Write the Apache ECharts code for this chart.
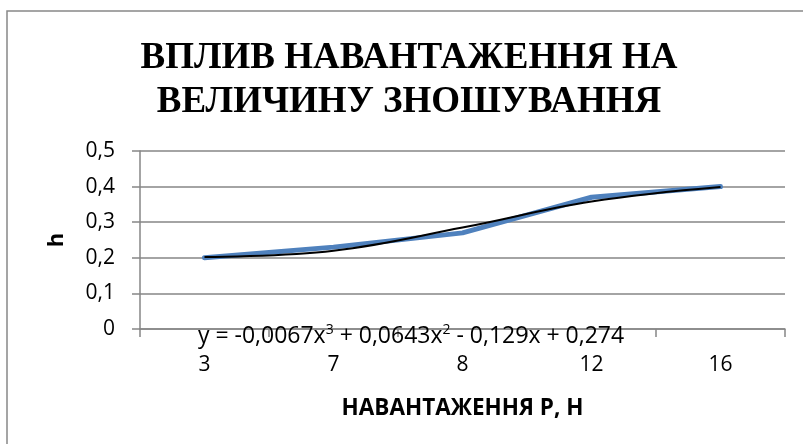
<!DOCTYPE html>
<html>
<head>
<meta charset="utf-8">
<script src="https://cdn.jsdelivr.net/npm/echarts@6/dist/echarts.min.js"></script>
<style>
  html, body { margin: 0; padding: 0; background: #fff; }
  #chart { width: 803px; height: 444px; }
</style>
</head>
<body>
<div id="chart"></div>
<script>
// Вплив навантаження на величину зношування
const categories = ['3', '7', '8', '12', '16'];
const wearValues = [0.2, 0.23, 0.27, 0.37, 0.4];
// polynomial trend at each category
const trendValues = [0.202, 0.22, 0.285, 0.358, 0.399];
const yTicks = { min: 0, max: 0.5, step: 0.1 };
const titleText = 'ВПЛИВ НАВАНТАЖЕННЯ НА\nВЕЛИЧИНУ ЗНОШУВАННЯ';
const xName = 'НАВАНТАЖЕННЯ Р, Н';
const yName = 'h';

const sansFont = 'Open Sans';
const serifFont = 'Liberation Serif';
const gridColor = '#868686';

const chart = echarts.init(document.getElementById('chart'));

const option = {
  backgroundColor: '#fff',
  animation: false,
  title: {
    text: titleText,
    left: 404,
    top: 31,
    textAlign: 'center',
    textStyle: {
      fontFamily: serifFont,
      fontWeight: 'bold',
      fontSize: 37,
      lineHeight: 44,
      color: '#000',
    },
  },
  grid: {
    left: 140,
    right: 18,
    top: 151,
    bottom: 115,
    containLabel: false,
  },
  xAxis: {
    type: 'category',
    data: categories,
    boundaryGap: true,
    name: xName,
    nameLocation: 'middle',
    nameGap: 68,
    nameTextStyle: {
      fontFamily: sansFont,
      fontWeight: 'bold',
      fontSize: 22.5,
      color: '#000',
    },
    axisLine: { lineStyle: { color: gridColor, width: 1.5 } },
    axisTick: {
      show: true,
      alignWithLabel: false,
      length: 8,
      lineStyle: { color: gridColor, width: 1.5 },
    },
    axisLabel: {
      margin: 26,
      fontFamily: sansFont,
      fontSize: 21,
      color: '#000',
    },
    splitLine: { show: false },
  },
  yAxis: {
    type: 'value',
    min: yTicks.min,
    max: yTicks.max,
    interval: yTicks.step,
    name: yName,
    nameLocation: 'middle',
    nameGap: 72,
    nameRotate: 90,
    nameTextStyle: {
      fontFamily: sansFont,
      fontWeight: 'bold',
      fontSize: 22,
      color: '#000',
    },
    axisLine: { show: true, lineStyle: { color: gridColor, width: 1.5 } },
    axisTick: { show: true, length: 8, lineStyle: { color: gridColor, width: 1.5 } },
    axisLabel: {
      margin: 25,
      fontFamily: sansFont,
      fontSize: 21,
      color: '#000',
      formatter: (v) => (v === 0 ? '0' : v.toFixed(1).replace('.', ',')),
    },
    splitLine: { show: true, lineStyle: { color: gridColor, width: 1.5 } },
  },
  series: [
    {
      name: 'h',
      type: 'line',
      data: wearValues,
      symbol: 'none',
      lineStyle: { color: '#4F81BD', width: 5, cap: 'round', join: 'round' },
      z: 2,
    },
    {
      name: 'trend',
      type: 'line',
      data: trendValues,
      smooth: 0.4,
      symbol: 'none',
      lineStyle: { color: '#000', width: 2 },
      z: 3,
    },
  ],
  graphic: [
    {
      type: 'rect',
      shape: { x: 7, y: 11, width: 900, height: 600 },
      style: { fill: null, stroke: '#888', lineWidth: 1.5 },
      silent: true,
    },
    {
      type: 'text',
      x: 411,
      y: 336,
      z: 10,
      style: {
        text: '{b|y = -0,0067x}{s|3}{b| + 0,0643x}{s|2}{b| - 0,129x + 0,274}',
        textAlign: 'center',
        textVerticalAlign: 'middle',
        rich: {
          b: { fontFamily: sansFont, fontSize: 23, color: '#000', lineHeight: 26 },
          s: { fontFamily: sansFont, fontSize: 14, color: '#000', verticalAlign: 'top', lineHeight: 26 },
        },
      },
    },
  ],
};

chart.setOption(option);
</script>
</body>
</html>
